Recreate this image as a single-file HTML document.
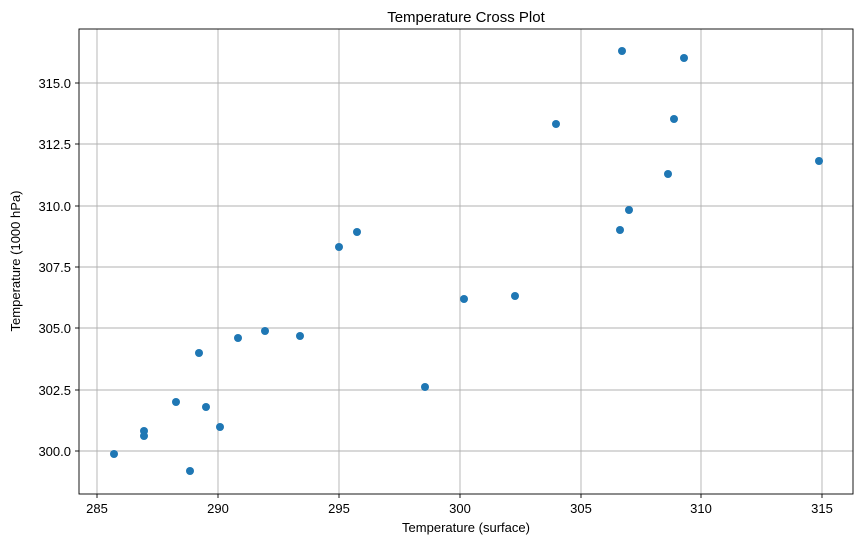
<!DOCTYPE html>
<html><head><meta charset="utf-8"><style>body{margin:0;background:#fff}</style></head><body>
<svg width="864" height="545" xmlns="http://www.w3.org/2000/svg" font-family="Liberation Sans, DejaVu Sans, sans-serif">
<rect width="864" height="545" fill="#fff"/>
<g stroke="#b0b0b0" stroke-width="0.9">
<line x1="97" y1="29" x2="97" y2="494"/><line x1="218" y1="29" x2="218" y2="494"/><line x1="339" y1="29" x2="339" y2="494"/><line x1="460" y1="29" x2="460" y2="494"/><line x1="581" y1="29" x2="581" y2="494"/><line x1="701" y1="29" x2="701" y2="494"/><line x1="822" y1="29" x2="822" y2="494"/>
<line x1="79" y1="83" x2="853" y2="83"/><line x1="79" y1="144" x2="853" y2="144"/><line x1="79" y1="206" x2="853" y2="206"/><line x1="79" y1="267" x2="853" y2="267"/><line x1="79" y1="328" x2="853" y2="328"/><line x1="79" y1="390" x2="853" y2="390"/><line x1="79" y1="451" x2="853" y2="451"/>
</g>
<rect x="79" y="29" width="774" height="465" fill="none" stroke="#000" stroke-width="0.9"/>
<g stroke="#000" stroke-width="0.9">
<line x1="97" y1="494" x2="97" y2="498"/><line x1="218" y1="494" x2="218" y2="498"/><line x1="339" y1="494" x2="339" y2="498"/><line x1="460" y1="494" x2="460" y2="498"/><line x1="581" y1="494" x2="581" y2="498"/><line x1="701" y1="494" x2="701" y2="498"/><line x1="822" y1="494" x2="822" y2="498"/>
<line x1="75" y1="83" x2="79" y2="83"/><line x1="75" y1="144" x2="79" y2="144"/><line x1="75" y1="206" x2="79" y2="206"/><line x1="75" y1="267" x2="79" y2="267"/><line x1="75" y1="328" x2="79" y2="328"/><line x1="75" y1="390" x2="79" y2="390"/><line x1="75" y1="451" x2="79" y2="451"/>
</g>
<g font-size="13" fill="#000" text-anchor="middle">
<text x="97" y="513">285</text><text x="218" y="513">290</text><text x="339" y="513">295</text><text x="460" y="513">300</text><text x="581" y="513">305</text><text x="701" y="513">310</text><text x="822" y="513">315</text>
</g>
<g font-size="13" fill="#000" text-anchor="end">
<text x="71" y="88">315.0</text><text x="71" y="149">312.5</text><text x="71" y="211">310.0</text><text x="71" y="272">307.5</text><text x="71" y="333">305.0</text><text x="71" y="395">302.5</text><text x="71" y="456">300.0</text>
</g>
<text x="466" y="532" font-size="13" text-anchor="middle">Temperature (surface)</text>
<text x="20" y="261" font-size="13" text-anchor="middle" transform="rotate(-90 20 261)">Temperature (1000 hPa)</text>
<text x="466" y="22" font-size="15" text-anchor="middle">Temperature Cross Plot</text>
<g fill="#1f77b4">
<circle cx="114" cy="454" r="4"/><circle cx="144" cy="431" r="4"/><circle cx="144" cy="436" r="4"/><circle cx="176" cy="402" r="4"/><circle cx="190" cy="471" r="4"/><circle cx="199" cy="353" r="4"/><circle cx="206" cy="407" r="4"/><circle cx="220" cy="427" r="4"/><circle cx="238" cy="338" r="4"/><circle cx="265" cy="331" r="4"/><circle cx="300" cy="336" r="4"/><circle cx="339" cy="247" r="4"/><circle cx="357" cy="232" r="4"/><circle cx="425" cy="387" r="4"/><circle cx="464" cy="299" r="4"/><circle cx="515" cy="296" r="4"/><circle cx="556" cy="124" r="4"/><circle cx="622" cy="51" r="4"/><circle cx="684" cy="58" r="4"/><circle cx="620" cy="230" r="4"/><circle cx="629" cy="210" r="4"/><circle cx="668" cy="174" r="4"/><circle cx="674" cy="119" r="4"/><circle cx="819" cy="161" r="4"/>
</g>
</svg>
</body></html>
